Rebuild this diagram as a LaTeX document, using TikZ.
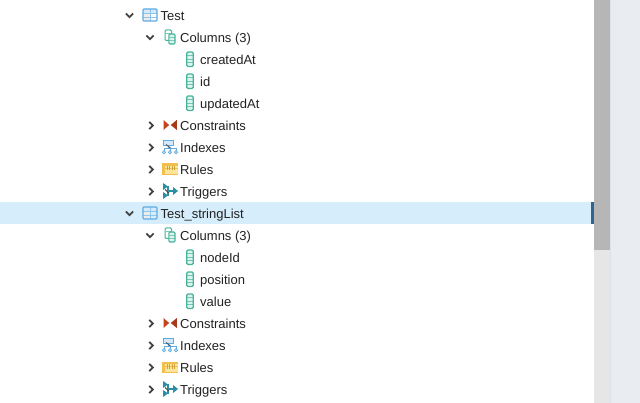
\documentclass[tikz,border=0pt]{standalone}
\usepackage{fontspec}
\setmainfont{Liberation Sans}
\definecolor{txtc}{HTML}{222222}
\definecolor{selc}{HTML}{D6EDFC}
\definecolor{markc}{HTML}{2F6591}
\definecolor{thumbc}{HTML}{B6B6B6}
\definecolor{trackc}{HTML}{E6E6E6}
\definecolor{gutterc}{HTML}{E9ECF1}
\definecolor{gutlinec}{HTML}{DDE2EA}
\definecolor{tblue}{HTML}{5FAAE2}
\definecolor{tfill}{HTML}{D5E9F8}
\definecolor{tealc}{HTML}{45B39B}
\definecolor{tealf}{HTML}{DDF3EE}
\definecolor{brick}{HTML}{C2431C}
\definecolor{goldc}{HTML}{F2C04A}
\definecolor{goldf}{HTML}{FCE59A}
\definecolor{trigc}{HTML}{2A8FA3}
\tikzset{
  x=1pt,y=-1pt,
  rowtxt/.style={anchor=base west,inner sep=0pt,text=txtc,font=\fontsize{13}{15}\selectfont},
  chev/.style={draw=txtc!85,line width=1.8pt,line cap=butt},
  pics/dn/.style={code={\draw[chev] (-3.6,-2)--(0,1.6)--(3.6,-2);}},
  pics/rt/.style={code={\draw[chev] (-1.8,-3.6)--(1.8,0)--(-1.8,3.6);}},
  pics/tbl/.style={code={
    \fill[tfill] (-7,-6) rectangle (7,-1.5);
    \fill[gray!15] (-7,-1.5) rectangle (0,6);
    \draw[tblue!70,line width=.7pt] (-7,-1.5)--(7,-1.5) (-7,2.2)--(7,2.2) (0,-6)--(0,6);
    \draw[tblue,line width=1.1pt,rounded corners=.8pt] (-7,-6) rectangle (7,6);}},
  pics/colm/.style={code={
    \fill[tealf] (-3.2,-7) rectangle (3.2,7.5);
    \draw[tealc!75,line width=.7pt] (-3.2,-3.4)--(3.2,-3.4) (-3.2,0.2)--(3.2,0.2) (-3.2,3.8)--(3.2,3.8);
    \draw[tealc,line width=1.2pt,rounded corners=1.2pt] (-3.2,-7) rectangle (3.2,7.5);}},
  pics/cols/.style={code={
    \draw[tealc,line width=1pt,rounded corners=1.2pt] (-5,-7) rectangle (1.5,3.5);
    \draw[tealc!70,line width=.6pt] (-5,-3.8)--(1.5,-3.8);
    \fill[tealf] (-1.2,-3) rectangle (5,7);
    \draw[tealc!70,line width=.6pt] (-1.2,0)--(5,0) (-1.2,3.3)--(5,3.3);
    \draw[tealc,line width=1.1pt,rounded corners=1.2pt] (-1.2,-3) rectangle (5,7);}},
  pics/cons/.style={code={
    \fill[brick] (-6.5,-5)--(-.8,0)--(-6.5,5)--cycle;
    \fill[brick!85!black] (6.8,-5)--(.8,0)--(6.8,5)--cycle;}},
  pics/idx/.style={code={
    \draw[tblue,line width=.8pt] (-2,-1.5)--(-2,1.5) (-6,4)--(-6,1.5)--(6,1.5)--(6,4) (0,1.5)--(0,4);
    \draw[tblue,line width=.9pt,fill=tfill] (-6.5,-6.5) rectangle (3,-1.5);
    \draw[gray!70!black,line width=1pt] (-4,-2.5)--(0.5,1);
    \foreach \a in {-6,0,6} \draw[tblue,line width=.8pt,fill=white] (\a,5.2) circle[radius=1.6pt];}},
  pics/rul/.style={code={
    \fill[goldf] (-8,-5) rectangle (8,6);
    \fill[goldc] (-8,-5.5) rectangle (8,-3);
    \fill[goldc] (-8,-5.5) rectangle (-5.5,6);
    \fill[goldc] (-8,4.6) rectangle (8,6);
    \fill[goldc] (-5.5,-1) rectangle (8,0);
    \foreach \a in {-3,-.5,2,4.5} \draw[goldc!85!black,line width=.8pt] (\a,-3)--(\a,1.5);}},
  pics/trg/.style={code={
    \fill[trigc] (-7,-8)--(-2,-4.5)--(-7,-1)--cycle;
    \fill[trigc] (-7,8)--(-2,4.5)--(-7,1)--cycle;
    \draw[trigc,line width=1.5pt] (-7,-4.5)--(-2,-4.5)--(-2,4.5)--(-7,4.5);
    \draw[gray!60!black,line width=1pt] (-5,-1.5)--(-1,2);
    \fill[trigc] (3,-4)--(8,0)--(3,4)--cycle;
    \draw[trigc,line width=1.5pt] (-2,0)--(4,0);}}
}
\begin{document}
\begin{tikzpicture}
\useasboundingbox (0,0) rectangle (640,403);
\fill[white] (0,0) rectangle (640,403);
\fill[selc] (0,202) rectangle (591,224);
\fill[markc] (591,202) rectangle (594,224);
\fill[trackc] (594,0) rectangle (610,403);
\fill[thumbc] (594,0) rectangle (610,250);
\fill[gutterc] (610,0) rectangle (640,403);
\fill[gutlinec] (610,0) rectangle (611,403);

\pic at (129.5,15.5) {dn};
\pic at (150,15) {tbl};
\node[rowtxt] (t1) at (160.5,20.3) {Test};
\pic at (150,37.5) {dn};
\pic at (170,37) {cols};
\node[rowtxt] (c1) at (180,42.3) {Columns (3)};
\pic at (190,59) {colm};
\node[rowtxt] (c1a) at (200,64.3) {createdAt};
\pic at (190,81) {colm};
\node[rowtxt] (c1b) at (200,86.3) {id};
\pic at (190,103) {colm};
\node[rowtxt] (c1c) at (200,108.3) {updatedAt};
\pic at (151,125.5) {rt};
\pic at (170,125) {cons};
\node[rowtxt] (k1) at (180,130.3) {Constraints};
\pic at (151,147.5) {rt};
\pic at (170,147) {idx};
\node[rowtxt] (i1) at (180,152.3) {Indexes};
\pic at (151,169.5) {rt};
\pic at (170,169) {rul};
\node[rowtxt] (r1) at (180,174.3) {Rules};
\pic at (151,191.5) {rt};
\pic at (170,191) {trg};
\node[rowtxt] (g1) at (180,196.3) {Triggers};

\pic at (129.5,213.5) {dn};
\pic at (150,213) {tbl};
\node[rowtxt] (t2) at (160.5,218.3) {Test\_stringList};
\pic at (150,235.5) {dn};
\pic at (170,235) {cols};
\node[rowtxt] (c2) at (180,240.3) {Columns (3)};
\pic at (190,257) {colm};
\node[rowtxt] (c2a) at (200,262.3) {nodeId};
\pic at (190,279) {colm};
\node[rowtxt] (c2b) at (200,284.3) {position};
\pic at (190,301) {colm};
\node[rowtxt] (c2c) at (200,306.3) {value};
\pic at (151,323.5) {rt};
\pic at (170,323) {cons};
\node[rowtxt] (k2) at (180,328.3) {Constraints};
\pic at (151,345.5) {rt};
\pic at (170,345) {idx};
\node[rowtxt] (i2) at (180,350.3) {Indexes};
\pic at (151,367.5) {rt};
\pic at (170,367) {rul};
\node[rowtxt] (r2) at (180,372.3) {Rules};
\pic at (151,389.5) {rt};
\pic at (170,389) {trg};
\node[rowtxt] (g2) at (180,394.3) {Triggers};
\end{tikzpicture}
\end{document}
